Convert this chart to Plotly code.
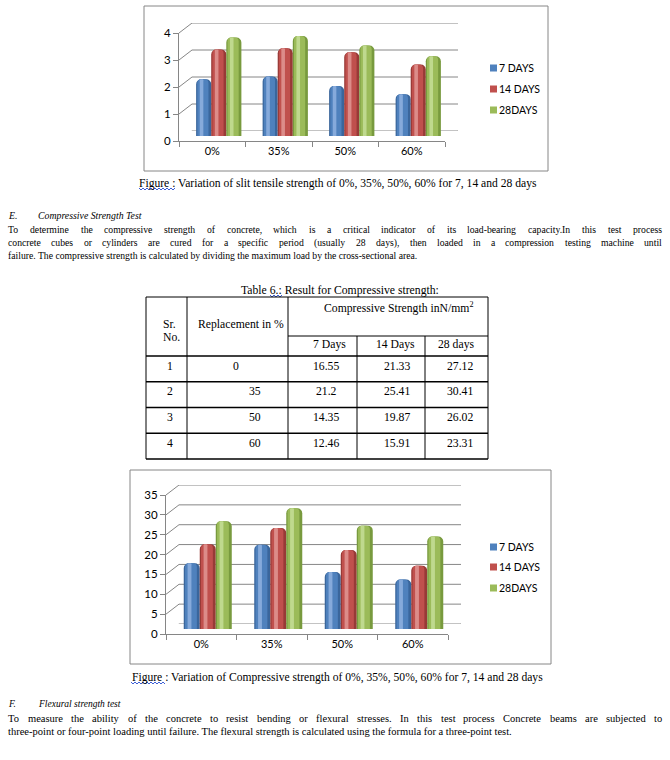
import plotly.graph_objects as go

W, H = 670, 760


def PX(x):
    return x / W


def PY(y):
    return 1 - y / H


# ---------------- data ----------------
categories = ["0%", "35%", "50%", "60%"]
series_names = ["7 DAYS", "14 DAYS", "28DAYS"]

tensile_7days = [2.1, 2.2, 1.85, 1.55]
tensile_14days = [3.2, 3.25, 3.1, 2.65]
tensile_28days = [3.65, 3.7, 3.35, 2.95]
tensile_ticks = [0, 1, 2, 3, 4]

compressive_7days = [16.55, 21.2, 14.35, 12.46]
compressive_14days = [21.33, 25.41, 19.87, 15.91]
compressive_28days = [27.12, 30.41, 26.02, 23.31]
compressive_ticks = [0, 5, 10, 15, 20, 25, 30, 35]

table_sr_no = ["1", "2", "3", "4"]
table_replacement = ["0", "35", "50", "60"]
table_day_headers = ["7 Days", "14 Days", "28 days"]

# ---------------- texts ----------------
caption_1 = "Figure : Variation of slit tensile strength of 0%, 35%, 50%, 60% for 7, 14 and 28 days"
caption_2 = "Figure : Variation of Compressive strength of 0%, 35%, 50%, 60% for 7, 14 and 28 days"
heading_e = ("E.", "Compressive Strength Test")
para_e = [
    "To determine the compressive strength of concrete, which is a critical indicator of its load-bearing capacity.In this test process",
    "concrete cubes or cylinders are cured for a specific period (usually 28 days), then loaded in a compression testing machine until",
    "failure. The compressive strength is calculated by dividing the maximum load by the cross-sectional area.",
]
heading_f = ("F.", "Flexural strength test")
para_f = [
    "To measure the ability of the concrete to resist bending or flexural stresses. In this test process Concrete beams are subjected to",
    "three-point or four-point loading until failure. The flexural strength is calculated using the formula for a three-point test.",
]
table_title = "Table 6.: Result for Compressive strength:"
table_group_header = "Compressive Strength inN/mm<sup>2</sup>"

# ---------------- style ----------------
C_MAIN = ["#4F81BD", "#C0504D", "#9BBB59"]
C_EDGE = ["#3A669C", "#983A37", "#789A3E"]
C_LITE = ["#86AADB", "#DC8C89", "#BFD98E"]
GRID = "#868686"
SQUIGGLE = "#3D5FD6"
SANS = "Lato"
SERIF = "Liberation Serif"

# Times-compatible advance widths (1/1000 em)
TW = {" ": 250, ".": 250, ",": 250, ":": 278, ";": 278, "(": 333, ")": 333, "-": 333, "%": 833, "/": 278,
      "a": 444, "b": 500, "c": 444, "d": 500, "e": 444, "f": 333, "g": 500, "h": 500, "i": 278, "j": 278,
      "k": 500, "l": 278, "m": 778, "n": 500, "o": 500, "p": 500, "q": 500, "r": 333, "s": 389, "t": 278,
      "u": 500, "v": 500, "w": 722, "x": 500, "y": 500, "z": 444,
      "A": 722, "B": 667, "C": 667, "D": 722, "E": 611, "F": 556, "G": 722, "H": 722, "I": 333, "J": 389,
      "K": 722, "L": 611, "M": 889, "N": 722, "O": 722, "P": 556, "Q": 722, "R": 667, "S": 556, "T": 611,
      "U": 722, "V": 722, "W": 944, "X": 722, "Y": 722, "Z": 611}
for d in "0123456789":
    TW[d] = 500


def text_width(s, size):
    return sum(TW.get(c, 500) for c in s) * size / 1000.0


fig = go.Figure()
layout_axes = {}
shapes = []
annotations = []


def note(x, y, text, size, family=SERIF, xanchor="left", color="#000000"):
    annotations.append(dict(x=PX(x), y=PY(y), xref="paper", yref="paper", text=text, showarrow=False,
                            xanchor=xanchor, yanchor="middle", borderpad=0, borderwidth=0,
                            font=dict(family=family, size=size, color=color)))


def body_line(x0, x1, y, line, size, justify):
    if not justify:
        note(x0, y, line, size)
        return
    words = line.split(" ")
    widths = [text_width(w, size) for w in words]
    gap = (x1 - x0 - sum(widths)) / (len(words) - 1)
    x = x0
    for wd, ww in zip(words, widths):
        note(x, y, wd, size)
        x += ww + gap


def line_px(x0, y0, x1, y1, color="#000000", width=1, layer="above"):
    shapes.append(dict(type="line", xref="paper", yref="paper", x0=PX(x0), y0=PY(y0), x1=PX(x1), y1=PY(y1),
                       line=dict(color=color, width=width), layer=layer))


def squiggle(x0, x1, y):
    # spell-check style wavy underline
    pts = []
    x = x0
    up = True
    while x <= x1:
        pts.append((x, y - 1 if up else y + 1))
        up = not up
        x += 2
    path = "M " + " L ".join("%.5f,%.5f" % (PX(a), PY(b)) for a, b in pts)
    shapes.append(dict(type="path", xref="paper", yref="paper", path=path,
                       line=dict(color=SQUIGGLE, width=1)))


def sfx(i):
    return "" if i == 1 else str(i)


def add_chart(base, box, ymax, ticks, series, legend_ys, frame):
    xl, xr, yb, yt = box  # front plane in pixels
    dx, dy = 13, 10
    planes = [("front", base, 0, 0), ("back", base + 1, dx, dy), ("mid", base + 2, dx / 2, dy / 2)]
    for name, i, ox, oy in planes:
        s = sfx(i)
        xa = dict(domain=[PX(xl + ox), PX(xr + ox)], anchor="y" + s, type="category", automargin=False,
                  categoryorder="array", categoryarray=categories, range=[-0.5, 3.5], fixedrange=True,
                  showgrid=False, zeroline=False, showline=False, showticklabels=False, ticks="")
        ya = dict(domain=[PY(yb - oy), PY(yt - oy)], anchor="x" + s, range=[0, ymax], fixedrange=True,
                  automargin=False, showgrid=False, zeroline=False, showline=False, showticklabels=False,
                  ticks="")
        if name == "front":
            xa.update(showline=True, linecolor=GRID, linewidth=1, ticks="outside", ticklen=5,
                      tickcolor=GRID, tickson="boundaries", showticklabels=True,
                      tickfont=dict(family=SANS, size=11, color="#000000"))
            ya.update(showline=True, linecolor=GRID, linewidth=1, ticks="outside", ticklen=5,
                      tickcolor=GRID, tickmode="array", tickvals=ticks, ticktext=[str(t) for t in ticks],
                      showticklabels=True, tickfont=dict(family=SANS, size=11.5, color="#000000"))
        layout_axes["xaxis" + s] = xa
        layout_axes["yaxis" + s] = ya
        if name != "mid":
            fig.add_trace(go.Scatter(x=categories, y=series[0], mode="markers", marker=dict(opacity=0),
                                     xaxis="x" + s, yaxis="y" + s, hoverinfo="skip", showlegend=False))

    sb = sfx(base + 1)
    sm = sfx(base + 2)
    # back wall gridlines + side wall slants
    for t in ticks:
        shapes.append(dict(type="line", xref="x" + sb + " domain", yref="y" + sb, x0=0, x1=1, y0=t, y1=t,
                           line=dict(color=GRID, width=1), layer="below"))
        shapes.append(dict(type="line", xref="paper", xsizemode="pixel", xanchor=PX(xl + dx), x0=-dx, x1=0,
                           yref="y" + sb, ysizemode="pixel", yanchor=t, y0=-dy, y1=0,
                           line=dict(color=GRID, width=1), layer="below"))
    shapes.append(dict(type="line", xref="paper", xsizemode="pixel", xanchor=PX(xr + dx), x0=-dx, x1=0,
                       yref="y" + sb, ysizemode="pixel", yanchor=0, y0=-dy, y1=0,
                       line=dict(color=GRID, width=1), layer="below"))

    # cylinder-like bars
    w = 0.227
    for k, (nm, vals) in enumerate(zip(series_names, series)):
        off = -1.5 * w + k * w
        for color, wf, of, cr in [(C_EDGE[k], 1.0, 0.0, 5), (C_MAIN[k], 0.74, 0.08, 4), (C_LITE[k], 0.24, 0.24, 2)]:
            fig.add_trace(go.Bar(x=categories, y=vals, width=w * wf, offset=off + w * of, name=nm,
                                 marker=dict(color=color, line=dict(width=0), cornerradius=cr),
                                 xaxis="x" + sm, yaxis="y" + sm, hoverinfo="skip", showlegend=False))

    # legend
    for k, nm in enumerate(series_names):
        ly = legend_ys[k]
        shapes.append(dict(type="rect", xref="paper", yref="paper", x0=PX(490), x1=PX(497),
                           y0=PY(ly + 3.5), y1=PY(ly - 3.5), fillcolor=C_MAIN[k], line=dict(width=0)))
        note(499, ly, nm, 10.5, family=SANS)

    fx0, fy0, fx1, fy1 = frame
    shapes.append(dict(type="rect", xref="paper", yref="paper", x0=PX(fx0), x1=PX(fx1), y0=PY(fy1), y1=PY(fy0),
                       line=dict(color=GRID, width=1), fillcolor="rgba(0,0,0,0)", layer="below"))


# ---------------- top chart ----------------
add_chart(1, (179, 445, 141, 33), 4, tensile_ticks,
          [tensile_7days, tensile_14days, tensile_28days], [68, 89, 110], (144, 6, 548, 171))
note(338, 183, caption_1, 11.6, xanchor="center")
squiggle(139, 175, 189)

# ---------------- section E ----------------
note(8, 215, "<i>" + heading_e[0] + "</i>", 9.8)
note(38, 215, "<i>" + heading_e[1] + "</i>", 9.8)
E_SIZE = 9.7
for j, (yy, ln) in enumerate(zip([230, 243, 256], para_e)):
    body_line(8, 662, yy, ln, E_SIZE, j < len(para_e) - 1)

# ---------------- table ----------------
note(340, 290, table_title, 11.7, xanchor="center")
squiggle(270, 282, 296)
T_L, T_C1, T_C2, T_C3, T_C4, T_R = 146, 187, 288, 357, 425, 488
T_TOP, T_SPLIT, T_HEAD, T_BOT = 297, 336, 356, 459
row_h = (T_BOT - T_HEAD) / len(table_sr_no)
line_px(T_L, T_TOP, T_R, T_TOP)
line_px(T_C2, T_SPLIT, T_R, T_SPLIT)
line_px(T_L, T_HEAD, T_R, T_HEAD, width=1.3)
for r in range(1, len(table_sr_no) + 1):
    line_px(T_L, T_HEAD + r * row_h, T_R, T_HEAD + r * row_h, width=1.3)
for xv in (T_L, T_C1, T_C2, T_R):
    line_px(xv, T_TOP, xv, T_BOT)
for xv in (T_C3, T_C4):
    line_px(xv, T_SPLIT, xv, T_BOT)

TS = 11.7
note(399, 308, table_group_header, TS, xanchor="center")
note(163, 325, "Sr.", TS)
note(163, 338, "No.", TS)
note(241, 325, "Replacement in %", TS, xanchor="center")
day_centers = [329, 395, 456]
for hdr, cx in zip(table_day_headers, day_centers):
    note(cx, 344, hdr, TS, xanchor="center")
val_centers = [326, 397, 460]
day_values = [compressive_7days, compressive_14days, compressive_28days]
for r in range(len(table_sr_no)):
    yy = T_HEAD + r * row_h + 10
    note(170, yy, table_sr_no[r], TS, xanchor="center")
    note(236 if r == 0 else 255, yy, table_replacement[r], TS, xanchor="center")
    for vals, cx in zip(day_values, val_centers):
        note(cx, yy, str(vals[r]), TS, xanchor="center")

# ---------------- bottom chart ----------------
add_chart(4, (166, 448, 634, 495), 35, compressive_ticks,
          [compressive_7days, compressive_14days, compressive_28days], [547, 567, 588], (130, 470, 551, 664))
note(337.5, 677, caption_2, 11.6, xanchor="center")
squiggle(131, 166, 683)

# ---------------- section F ----------------
note(8, 704, "<i>" + heading_f[0] + "</i>", 9.5)
note(38, 704, "<i>" + heading_f[1] + "</i>", 9.5)
F_SIZE = 10.5
for j, (yy, ln) in enumerate(zip([718, 731], para_f)):
    body_line(8, 662, yy, ln, F_SIZE, j < len(para_f) - 1)

fig.update_layout(
    width=W, height=H, autosize=False,
    margin=dict(l=0, r=0, t=0, b=0, pad=0),
    paper_bgcolor="#FFFFFF", plot_bgcolor="rgba(0,0,0,0)",
    showlegend=False, barmode="overlay",
    shapes=shapes, annotations=annotations,
    **layout_axes,
)

fig.write_html(
    "out.html",
    config={"displayModeBar": False},
    post_script="document.documentElement.style.margin='0';document.body.style.margin='0';document.body.style.padding='0';",
)
